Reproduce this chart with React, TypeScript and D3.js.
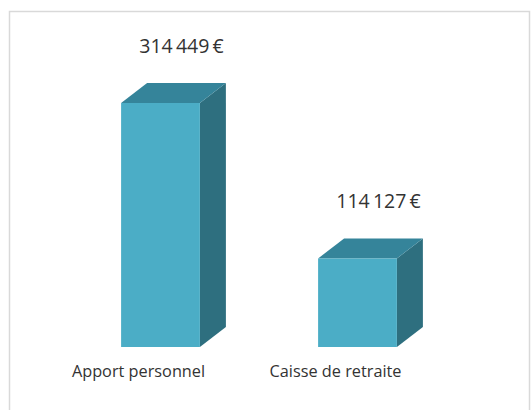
import React from "react";
import * as d3 from "d3";

const categories = ["Apport personnel", "Caisse de retraite"];
const values = [314449, 114127];
const valueLabels = ["314\u2009449\u2009€", "114\u2009127\u2009€"];

const W = 532;
const H = 410;

export default function App() {
  const x = d3.scaleBand<string>().domain(categories).range([62, 456]).paddingInner(0.6).paddingOuter(0.3);
  const y = d3.scaleLinear().domain([0, 350000]).range([347, 75.4]);
  const bw = x.bandwidth();
  const dx = 26;
  const dy = 20;
  const font = "'Open Sans', 'Noto Sans', sans-serif";

  return (
    <svg width={W} height={H} style={{ position: "absolute", left: 0, top: 0 }}>
      <rect x={0} y={0} width={W} height={H} fill="#ffffff" />
      <rect x={9.5} y={11.5} width={520} height={420} fill="#ffffff" stroke="#d9d9d9" strokeWidth={1.5} />
      {categories.map((c, i) => {
        const x0 = x(c)!;
        const x1 = x0 + bw;
        const yt = y(values[i]);
        const yb = y(0);
        const front = `M${x0},${yt}L${x1},${yt}L${x1},${yb}L${x0},${yb}Z`;
        const top = `M${x0},${yt}L${x0 + dx},${yt - dy}L${x1 + dx},${yt - dy}L${x1},${yt}Z`;
        const side = `M${x1},${yt}L${x1 + dx},${yt - dy}L${x1 + dx},${yb - dy}L${x1},${yb}Z`;
        const cx = x0 + bw / 2;
        return (
          <g key={c}>
            <path d={side} fill="#2e6f7f" />
            <path d={top} fill="#35849a" />
            <path d={front} fill="#4badc6" />
            <text x={cx + 21} y={yt - dy - 30} textAnchor="middle" fontFamily={font} fontSize={19.5} fill="#333333">
              {valueLabels[i]}
            </text>
            <text x={cx - 22} y={377} textAnchor="middle" fontFamily={font} fontSize={16.3} fill="#333333">
              {c}
            </text>
          </g>
        );
      })}
    </svg>
  );
}
